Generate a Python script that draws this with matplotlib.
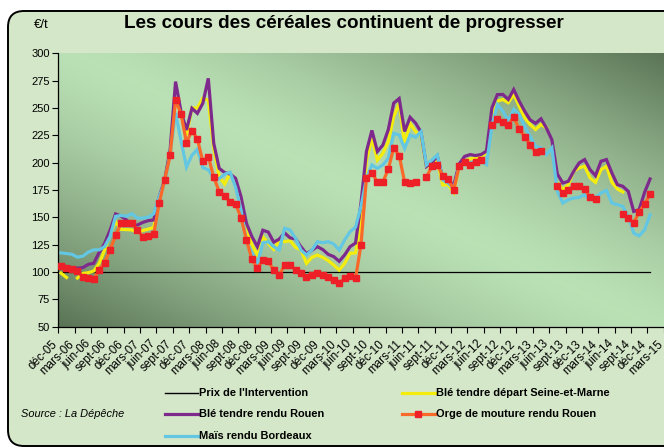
import numpy as np
import matplotlib
matplotlib.use("Agg")
import matplotlib.pyplot as plt
from matplotlib.patches import FancyBboxPatch
from matplotlib.lines import Line2D
from matplotlib.transforms import ScaledTranslation

plt.rcParams['font.family'] = ['Liberation Sans', 'DejaVu Sans']

nan = np.nan

# ---- data (monthly, déc-05 .. déc-14) ----
tick_labels = ["déc-05", "mars-06", "juin-06", "sept-06", "déc-06", "mars-07", "juin-07",
               "sept-07", "déc-07", "mars-08", "juin-08", "sept-08", "déc-08", "mars-09",
               "juin-09", "sept-09", "déc-09", "mars-10", "juin-10", "sept-10", "déc-10",
               "mars-11", "juin-11", "sept-11", "déc-11", "mars-12", "juin-12", "sept-12",
               "déc-12", "mars-13", "juin-13", "sept-13", "déc-13", "mars-14", "juin-14",
               "sept-14", "déc-14", "mars-15"]

intervention = [100.0] * 109

ble_seine_marne = [
    99, 95, nan, 94.5, 98.8, 99.4, 100.9, 107.9, 120.1, 133.8,
    146.1, 139, 138.8, 138.5, 136.1, 138, 139.2, 140.8, 167, 183.5,
    208, 259, 245, 225, 250, 250, 259, 257, 213, 187,
    180.5, 190.4, 181.2, 165, 139, 125, 115.5, 132.3, 126.2, 120.7,
    128.7, 127.7, 128.7, 122.6, 120.1, 107.9, 113.4, 115.5, 113.4, 110.4,
    106.4, 101.8, 107.9, 117.1, 117.5, 145, 202.4, 222.3, 202.4, 208.5,
    219.2, 242.1, 254.3, 217.7, 236.0, 228.4, 225.3, 196.3, 197.9, 200.9,
    179.6, 179.7, 172.9, 195.8, 201.3, 203.4, 204.3, 205.9, 208.9, 242.5,
    256.3, 257.8, 254.8, 262.4, 251.7, 241.0, 234.9, 230.3, 234.9, 231.8,
    nan, 181.4, 175.3, 179.9, 192.1, 195.2, 196.7, 186.0, 182.0, 193.6,
    196.7, 182, 176, 173.2, nan, nan, nan, nan, nan]

ble_rouen = [
    106, 105, 104, 103.5, 104, 107, 108, 118, 126.2, 138.4,
    153.1, 151.2, 147.6, 142.5, 143.0, 145.4, 147.0, 147.6, 168.9, 184.1,
    211.6, 274.1, 246.6, 229.9, 249.7, 245.1, 254.3, 277.1, 217.7, 194.8,
    190.9, 189.6, 185.7, 168.9, 144.5, 132.3, 123.2, 138.2, 136.5, 127.3,
    130.0, 135.8, 131.2, 130.3, 123.0, 116.7, 119.9, 123.2, 120.5, 116.1,
    114.1, 109.8, 115.6, 123.2, 126.5, 163, 210.3, 229.5, 210.2, 216.0,
    230.1, 254.5, 258.6, 228.6, 241.5, 236.2, 228, 196.5, 200.3, 206.0,
    185.8, 183.5, 179.4, 198.8, 205.7, 207.4, 206.5, 207.4, 210.5, 250.0,
    262.2, 262.4, 257.8, 266.8, 256.3, 247.1, 239.2, 235.9, 240.1, 231.6,
    220.9, 189.6, 181.4, 182.9, 192.1, 199.8, 202.8, 193.6, 188.1, 201.3,
    202.8, 190.6, 179.9, 178.4, 173.8, 155.4, 157.0, 172.9, 185.1]

orge_rouen = [
    105.6, 103.5, 102.6, 100.7, 95.5, 94.6, 93.7, 101.9, 108.7, 120.3,
    133.4, 144.4, 144.4, 144.4, 138.6, 132.2, 132.8, 134.6, 163.4, 184.2,
    206.6, 257.4, 244.8, 218.2, 229.4, 221.6, 201.1, 205.6, 186.8, 173.5,
    169.3, 164.3, 162.5, 149.6, 129.4, 111.5, 103.3, 110.8, 109.9, 101.6,
    97.1, 106.2, 106.2, 102.0, 99.2, 95.2, 97.1, 99.5, 97.1, 95.8,
    92.8, 90.0, 94.3, 96.8, 94.3, 124.9, 186.0, 190.6, 182.3, 182.3,
    193.9, 213.5, 206.5, 182.3, 181.1, 182.3, nan, 186.9, 196.7, 198.2,
    187.8, 185.1, 175.0, 196.7, 200.4, 197.6, 201.0, 202.5, nan, 234.0,
    239.5, 237.0, 234.6, 241.6, 230.6, 223.9, 216.3, 209.5, 211.1, nan,
    nan, 178.7, 171.9, 175.0, 178.4, 178.4, 176.2, 168.3, 166.7, nan,
    nan, nan, nan, 153.3, 149.3, 145.0, 154.8, 162.2, 171.0]

mais_bordeaux = [
    117.5, 116.9, 116.3, 113.6, 114.5, 118.2, 120.3, 120.3, 123.3, 132.5,
    150.9, 151.8, 150.9, 153.3, 149.3, 149.3, 150.2, 153.3, 169, 181.5,
    208, 245.6, 220, 196, 206.8, 212.2, 195.5, 193.5, 186, 185.3,
    189.4, 191.3, 177.5, 157, 128.6, 117.2, 107.8, 126.8, 127.7, 123.2,
    120.1, 140.0, 138.4, 130.8, 120.1, 115.5, 120.1, 127.7, 126.8, 127.7,
    125.6, 120.1, 129.3, 136.9, 141, 160, 185.7, 197.9, 194.8, 197.9,
    204.0, 226.8, 225.3, 213.1, 225.3, 223.2, 228.4, 197.9, 202.4, 207.0,
    184.1, 181.2, 175.9, 196.5, 199.8, 199.8, 201.3, 201.3, 198.2, 233.4,
    253.2, 247.1, 238.0, 248.7, 244.1, 233.4, 224.2, 215.0, 213.5, 207.4,
    213.5, 173.8, 163.1, 166.1, 167.7, 168.3, 170.7, 166.1, 167.7, 172.2,
    174.7, 163.1, 161.6, 160.0, 150.9, 135.6, 133.1, 138.6, 152.4]

# ---- figure ----
W, H = 664, 448
fig = plt.figure(figsize=(W / 100, H / 100), dpi=100, facecolor='white')

# rounded frame
frame = FancyBboxPatch((0.08, 0.02), 6.9, 4.35,
                       boxstyle="round,pad=0,rounding_size=0.16",
                       transform=fig.dpi_scale_trans, facecolor='#d4e7c8',
                       edgecolor='black', linewidth=1.4, zorder=-5)
fig.patches.append(frame)

n_cat = 112
left_px, top_px, bot_px = 58.3, 53.3, 326.7
cat_w = 5.454
right_px = left_px + n_cat * cat_w
ax = fig.add_axes([left_px / W, 1 - bot_px / H, (right_px - left_px) / W,
                   (bot_px - top_px) / H])
ax.set_zorder(2)
ax.set_facecolor('none')

# gradient background of plot area
gx = np.linspace(0, 1, 400)
gy = np.linspace(0, 1, 200)
GX, GY = np.meshgrid(gx, gy)
s = (GX + 0.95 * GY) / 1.95
d = np.abs(2 * s - 1)
f = np.clip(d, 0, 1) ** 1.4
light = np.array([0.73, 0.88, 0.71])
dark = np.array([0.35, 0.45, 0.33])
img = light[None, None, :] * (1 - f[..., None]) + dark[None, None, :] * f[..., None]
ax.imshow(img, extent=[0, 1, 0, 1], origin='lower', transform=ax.transAxes,
          aspect='auto', zorder=0, interpolation='bilinear')

x = np.arange(len(ble_rouen))
ax.plot(np.arange(len(intervention)), intervention, color='black', lw=0.9, zorder=2)
ax.plot(x, ble_seine_marne, color='#f4ec0c', lw=2.3, zorder=3, solid_joinstyle='miter')
ax.plot(x, ble_rouen, color='#7d2a8c', lw=2.3, zorder=4, solid_joinstyle='miter')
ax.plot(x, mais_bordeaux, color='#63c6e2', lw=2.3, zorder=5, solid_joinstyle='miter')
ax.plot(x, orge_rouen, color='#f8692a', lw=2.3, zorder=6, marker='s', markersize=4.6,
        markerfacecolor='#ee2027', markeredgecolor='#ee2027', solid_joinstyle='miter')

ax.set_xlim(-0.5, n_cat - 0.5)
ax.set_ylim(50, 300)
ax.set_yticks(np.arange(50, 301, 25))
ax.tick_params(axis='y', direction='out', length=4, width=0.8, labelsize=8, pad=2)

major = np.arange(-0.5, n_cat, 3)
ax.set_xticks(major)
ax.set_xticklabels([])
minor = np.arange(0, n_cat, 3)
ax.set_xticks(minor, minor=True)
ax.set_xticklabels(tick_labels, minor=True, rotation=45, ha='right', va='top',
                   rotation_mode='anchor', fontsize=8.4)
ax.tick_params(axis='x', which='major', direction='out', length=4, width=0.8)
ax.tick_params(axis='x', which='minor', length=0, pad=6)
shift = ScaledTranslation(-0.095, -0.03, fig.dpi_scale_trans)
for lab in ax.get_xticklabels(minor=True):
    lab.set_transform(lab.get_transform() + shift)

for sp in ['top', 'right']:
    ax.spines[sp].set_visible(False)
for sp in ['left', 'bottom']:
    ax.spines[sp].set_linewidth(0.9)

# title and unit
fig.text(344 / W, 1 - 23.5 / H, "Les cours des céréales continuent de progresser",
         ha='center', va='center', fontsize=13.6, fontweight='bold')
fig.text(34 / W, 1 - 25 / H, "€/t", ha='left', va='center', fontsize=9.5)

# legend
def leg_item(x0, y, color, label, marker=None):
    fy = 1 - y / H
    fig.lines.append(Line2D([x0 / W, (x0 + 33) / W], [fy, fy], transform=fig.transFigure,
                            color=color, lw=2.3 if color != 'black' else 1.0))
    if marker:
        fig.lines.append(Line2D([(x0 + 16.5) / W], [fy], transform=fig.transFigure,
                                marker='s', markersize=4.6, color='#ee2027', lw=0))
    fig.text((x0 + 34) / W, fy, label, ha='left', va='center', fontsize=7.9,
             fontweight='bold')

leg_item(165, 393, 'black', "Prix de l'Intervention")
leg_item(402, 393, '#f4ec0c', "Blé tendre départ Seine-et-Marne")
leg_item(165, 414, '#7d2a8c', "Blé tendre rendu Rouen")
leg_item(402, 414, '#f8692a', "Orge de mouture rendu Rouen", marker=True)
leg_item(165, 436, '#63c6e2', "Maïs rendu Bordeaux")
fig.text(21 / W, 1 - 414 / H, "Source : La Dépêche", ha='left', va='center',
         fontsize=7.9, style='italic')

fig.savefig("out.png", dpi=100, facecolor='white')
